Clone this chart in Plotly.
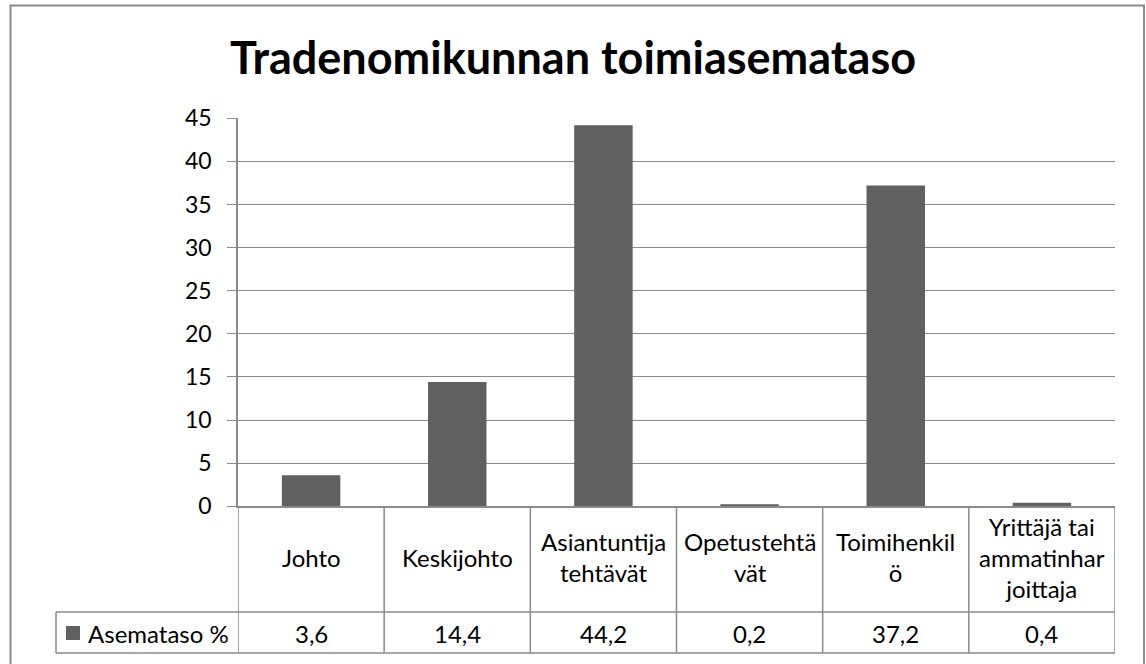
import plotly.graph_objects as go

# ---- data ----
categories = ["Johto", "Keskijohto", "Asiantuntija tehtävät", "Opetustehtävät",
              "Toimihenkilö", "Yrittäjä tai ammatinharjoittaja"]
category_labels = ["Johto", "Keskijohto", "Asiantuntija<br>tehtävät", "Opetustehtä<br>vät",
                   "Toimihenkil<br>ö", "Yrittäjä tai<br>ammatinhar<br>joittaja"]
values = [3.6, 14.4, 44.2, 0.2, 37.2, 0.4]
value_labels = ["3,6", "14,4", "44,2", "0,2", "37,2", "0,4"]
series_name = "Asemataso %"
title_text = "Tradenomikunnan toimiasemataso"
y_ticks = [0, 5, 10, 15, 20, 25, 30, 35, 40, 45]

# ---- layout constants ----
W, H = 1146, 664
FONT = "Lato"
BAR = "#606060"
LINE = "#8a8a8a"
TXT = 24

def px(x):
    return x / W

def py(y):
    return 1 - y / H

x_dom = [px(238), px(1115)]
y_dom = [py(506.2), py(118.3)]
row1_mid = py(557)
row_split = py(612)
row_bottom = py(653)
row2_mid = py(633)

fig = go.Figure()
fig.add_trace(go.Bar(
    x=categories, y=values, name=series_name,
    marker=dict(color=BAR, line=dict(width=0)),
    showlegend=False, hoverinfo="skip",
))

shapes = []
# outer chart border
shapes.append(dict(type="rect", xref="paper", yref="paper",
                   x0=px(10.5), x1=px(1144), y0=py(664 + 10), y1=py(5.5),
                   line=dict(color=LINE, width=2), layer="below"))
# table horizontal lines
for yy in [row_split, row_bottom]:
    shapes.append(dict(type="line", xref="paper", yref="paper",
                       x0=px(56), x1=x_dom[1], y0=yy, y1=yy,
                       line=dict(color=LINE, width=1.5)))
# legend cell left border
shapes.append(dict(type="line", xref="paper", yref="paper",
                   x0=px(56), x1=px(56), y0=row_bottom, y1=row_split,
                   line=dict(color=LINE, width=1.5)))
# category column borders
for i in range(len(categories) + 1):
    shapes.append(dict(type="line", xref="x", yref="paper",
                       x0=i - 0.5, x1=i - 0.5, y0=row_bottom, y1=y_dom[0],
                       line=dict(color=LINE, width=1.5)))
# legend key
shapes.append(dict(type="rect", xref="paper", yref="paper",
                   x0=px(66), x1=px(80), y0=py(640), y1=py(626),
                   fillcolor=BAR, line=dict(width=0)))

annotations = []
for cat, lab in zip(categories, category_labels):
    annotations.append(dict(x=cat, xref="x", y=row1_mid, yref="paper",
                            text=lab, showarrow=False, xanchor="center", yanchor="middle",
                            align="center", font=dict(family=FONT, size=TXT, color="#000000")))
for cat, lab in zip(categories, value_labels):
    annotations.append(dict(x=cat, xref="x", y=row2_mid, yref="paper",
                            text=lab, showarrow=False, xanchor="center", yanchor="middle",
                            font=dict(family=FONT, size=TXT, color="#000000")))
annotations.append(dict(x=px(86), xref="paper", y=row2_mid, yref="paper",
                        text=series_name, showarrow=False, xanchor="left", yanchor="middle",
                        font=dict(family=FONT, size=TXT, color="#000000")))

fig.update_layout(
    width=W, height=H,
    margin=dict(l=0, r=0, t=0, b=0, autoexpand=False),
    paper_bgcolor="white", plot_bgcolor="white",
    title=dict(text="<b>" + title_text + "</b>", x=0.5, xanchor="center",
               y=py(58), yanchor="middle",
               font=dict(family=FONT, size=45, color="#000000")),
    bargap=0.6,
    shapes=shapes,
    annotations=annotations,
    xaxis=dict(domain=x_dom, type="category", range=[-0.5, len(categories) - 0.5],
               automargin=False, fixedrange=True,
               showticklabels=False, showgrid=False, zeroline=False,
               showline=True, linecolor=LINE, linewidth=1.5, ticks=""),
    yaxis=dict(domain=y_dom, range=[0, 45], tickvals=y_ticks, automargin=False,
               fixedrange=True,
               showgrid=True, gridcolor=LINE, gridwidth=1.3,
               zeroline=False, showline=True, linecolor=LINE, linewidth=1.5,
               ticks="outside", ticklen=9, tickcolor=LINE, tickwidth=1.3,
               ticklabelstandoff=11,
               tickfont=dict(family=FONT, size=23, color="#000000")),
)

fig.write_html("out.html", config={"displayModeBar": False},
               post_script="document.body.style.margin='0';")
